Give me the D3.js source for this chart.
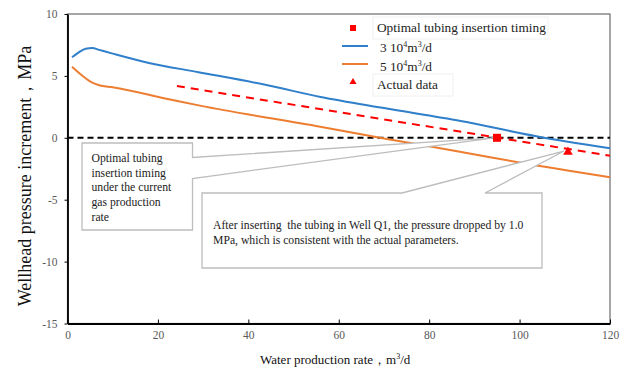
<!DOCTYPE html>
<html>
<head>
<meta charset="utf-8">
<script src="https://cdn.jsdelivr.net/npm/d3@7"></script>
<style>
  body { margin: 0; background: #fff; }
  svg { font-family: "Liberation Serif", "Times New Roman", serif; }
</style>
</head>
<body>
<script>
// water production rate (m3/d) vs wellhead pressure increment (MPa)
let blueX = [1, 2.5, 4, 5.5, 7, 10, 18, 29, 44, 56, 70, 87, 104, 120];
let blueY = [6.5, 6.9, 7.2, 7.25, 7.1, 6.8, 6.05, 5.3, 4.26, 3.3, 2.4, 1.36, 0.1, -0.85];
let orangeX = [1, 3, 5.5, 7, 10, 22.7, 29.3, 55.9, 70, 86.8, 100, 120];
let orangeY = [5.74, 5.1, 4.45, 4.25, 4.08, 3.1, 2.6, 0.9, -0.05, -1.12, -2.0, -3.19];
let redX = [24.2, 120];
let redY = [4.18, -1.45];
let zeroX = [0, 120];
let zeroY = [0, 0];
let optimalPoint = [95, 0];
let actualPoint = [110.7, -1.07];
let xTicks = [0, 20, 40, 60, 80, 100, 120];
let yTicks = [-15, -10, -5, 0, 5, 10];
let legendLabels = ["Optimal tubing insertion timing", "3 10", "5 10", "Actual data"];
let note1 = ["Optimal tubing", "insertion timing", "under the current", "gas production", "rate"];
let note2 = ["After inserting  the tubing in Well Q1, the pressure dropped by 1.0", "MPa, which is consistent with the actual parameters."];

const width = 627, height = 368;
const blue = "#2f7fcb", orange = "#ed7d31";

var svg = d3.select("body").append("svg")
    .attr("width", width)
    .attr("height", height);

let xScale = d3.scaleLinear().domain([0, 120]).range([67.5, 610]);
let yScale = d3.scaleLinear().domain([-15, 10]).range([323.5, 14]);

// frame (top / right)
svg.append("rect")
    .attr("x", xScale(0)).attr("y", yScale(10))
    .attr("width", xScale(120) - xScale(0))
    .attr("height", yScale(-15) - yScale(10))
    .attr("fill", "none")
    .attr("stroke", "#6b6b6b")
    .attr("stroke-width", 1.2);

// axes - plain hyphen for negatives like the source
let xAxis = d3.axisBottom(xScale).tickValues(xTicks).tickFormat(d => String(d))
    .tickSizeInner(-4).tickSizeOuter(0).tickPadding(7);
let yAxis = d3.axisLeft(yScale).tickValues(yTicks).tickFormat(d => String(d))
    .tickSizeInner(3).tickSizeOuter(0).tickPadding(7);

function styleAxis(g) {
    g.attr("font-family", null);
    g.select(".domain").attr("stroke", "#000").attr("stroke-width", 1.8);
    g.selectAll(".tick line").attr("stroke", "#000");
    g.selectAll(".tick text")
        .attr("fill", "#595959")
        .style("font-size", "11.5px");
}

svg.append("g")
    .attr("transform", "translate(0," + yScale(-15) + ")")
    .call(xAxis)
    .call(styleAxis);

svg.append("g")
    .attr("transform", "translate(" + xScale(0) + ",0)")
    .call(yAxis)
    .call(styleAxis);

// series
function seriesLine(xs, ys, curve) {
    let pts = xs.map((d, i) => [d, ys[i]]);
    return d3.line()
        .x(d => xScale(d[0]))
        .y(d => yScale(d[1]))
        .curve(curve)(pts);
}

svg.append("path")
    .attr("d", seriesLine(zeroX, zeroY, d3.curveLinear))
    .attr("fill", "none").attr("stroke", "#000")
    .attr("stroke-width", 2).attr("stroke-dasharray", "6,4");

svg.append("path")
    .attr("d", seriesLine(blueX, blueY, d3.curveMonotoneX))
    .attr("fill", "none").attr("stroke", blue).attr("stroke-width", 2);

svg.append("path")
    .attr("d", seriesLine(orangeX, orangeY, d3.curveMonotoneX))
    .attr("fill", "none").attr("stroke", orange).attr("stroke-width", 2);

svg.append("path")
    .attr("d", seriesLine(redX, redY, d3.curveLinear))
    .attr("fill", "none").attr("stroke", "#ff0000")
    .attr("stroke-width", 2).attr("stroke-dasharray", "8,6");

// callouts
function callout(box, tip, base) {
    // box: [x0,y0,x1,y1]; base: two points on the box edge where the pointer starts
    let p = d3.path();
    p.moveTo(box[0], box[1]);
    if (base.side == "right") {
        p.lineTo(box[2], box[1]);
        p.lineTo(box[2], base.a);
        p.lineTo(tip[0], tip[1]);
        p.lineTo(box[2], base.b);
        p.lineTo(box[2], box[3]);
        p.lineTo(box[0], box[3]);
    } else {
        p.lineTo(base.a, box[1]);
        p.lineTo(tip[0], tip[1]);
        p.lineTo(base.b, box[1]);
        p.lineTo(box[2], box[1]);
        p.lineTo(box[2], box[3]);
        p.lineTo(box[0], box[3]);
    }
    p.closePath();
    svg.append("path")
        .attr("d", p.toString())
        .attr("fill", "#fff")
        .attr("stroke", "#bdbdbd")
        .attr("stroke-width", 1.3);
}

callout([82, 143, 192.5, 230],
    [xScale(optimalPoint[0]) - 3, yScale(optimalPoint[1])],
    { side: "right", a: 157.5, b: 178.5 });
callout([202, 193, 542, 268],
    [xScale(actualPoint[0]) - 4, yScale(actualPoint[1])],
    { side: "top", a: 402, b: 485 });

svg.append("g").selectAll("text")
    .data(note1).enter().append("text")
    .attr("x", 91.5)
    .attr("y", (d, i) => 162 + i * 14.7)
    .attr("fill", "#222")
    .style("font-size", "11.7px")
    .text(d => d);

svg.append("g").selectAll("text")
    .data(note2).enter().append("text")
    .attr("x", 213)
    .attr("y", (d, i) => 228.5 + i * 15.5)
    .attr("fill", "#222")
    .style("font-size", "11.7px")
    .style("white-space", "pre")
    .text(d => d);

// markers
svg.append("rect")
    .attr("x", xScale(optimalPoint[0]) - 4)
    .attr("y", yScale(optimalPoint[1]) - 4)
    .attr("width", 8).attr("height", 8)
    .attr("fill", "#ff0000");

svg.append("path")
    .attr("d", d3.symbol().type(d3.symbolTriangle).size(40)())
    .attr("transform", "translate(" + xScale(actualPoint[0]) + "," + (yScale(actualPoint[1]) + 1) + ")")
    .attr("fill", "#ff0000");

// legend
let legend = svg.append("g");
let legendY = [32, 52, 71, 89];
legend.append("rect").attr("x", 373).attr("y", 17).attr("width", 175).attr("height", 22)
    .attr("fill", "#fff").attr("stroke", "#f0f0f0");
legend.append("rect").attr("x", 373).attr("y", 74).attr("width", 80).attr("height", 22)
    .attr("fill", "#fff").attr("stroke", "#f0f0f0");
legend.append("rect").attr("x", 350).attr("y", 25).attr("width", 6).attr("height", 6).attr("fill", "#ff0000");
legend.append("line").attr("x1", 342).attr("x2", 368).attr("y1", 46).attr("y2", 46)
    .attr("stroke", blue).attr("stroke-width", 2);
legend.append("line").attr("x1", 342).attr("x2", 368).attr("y1", 64).attr("y2", 64)
    .attr("stroke", orange).attr("stroke-width", 2);
legend.append("path")
    .attr("d", d3.symbol().type(d3.symbolTriangle).size(22)())
    .attr("transform", "translate(353,82)")
    .attr("fill", "#ff0000");

legend.selectAll(".lt")
    .data(legendLabels).enter().append("text")
    .attr("class", "lt")
    .attr("x", (d, i) => (i == 1 || i == 2) ? 380 : 377)
    .attr("y", (d, i) => legendY[i])
    .attr("fill", "#222")
    .style("font-size", "13.3px")
    .each(function (d, i) {
        let t = d3.select(this);
        t.text(d);
        if (i == 1 || i == 2) {
            t.append("tspan").attr("dy", -5).style("font-size", "8px").text("4");
            t.append("tspan").attr("dy", 5).text("m");
            t.append("tspan").attr("dy", -5).style("font-size", "8px").text("3");
            t.append("tspan").attr("dy", 5).text("/d");
        }
    });

// axis titles
let yTitle = svg.append("text")
    .attr("transform", "translate(31,176) rotate(-90)")
    .attr("text-anchor", "middle")
    .attr("fill", "#111")
    .style("font-size", "18px")
    .text("Wellhead pressure increment，MPa");

let xTitle = svg.append("text")
    .attr("x", 260)
    .attr("y", 364)
    .attr("fill", "#111")
    .style("font-size", "13px")
    .text("Water production rate，m");
xTitle.append("tspan").attr("dy", -5).style("font-size", "8px").text("3");
xTitle.append("tspan").attr("dy", 5).text("/d");
</script>
</body>
</html>
